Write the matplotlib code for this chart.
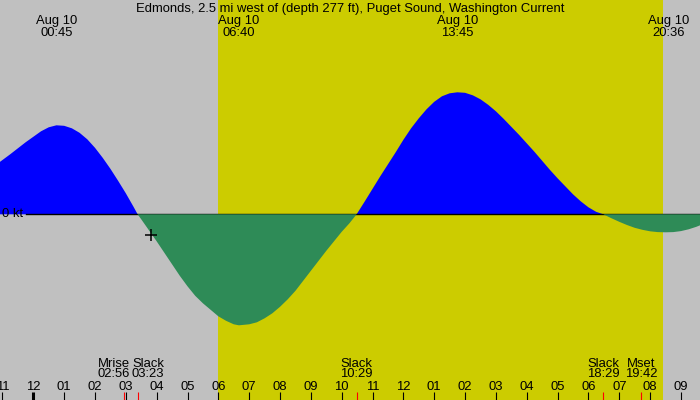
import matplotlib.pyplot as plt

hours = [-1.1, -0.75, -0.5, -0.25, 0.0, 0.25, 0.5, 0.75, 1.0, 1.25, 1.5, 1.75,
         2.0, 2.25, 2.5, 2.75, 3.0, 3.25, 3.383,
         3.5, 3.75, 4.0, 4.25, 4.5, 4.75, 5.0, 5.25, 5.5, 5.75, 6.0, 6.25,
         6.5, 6.667, 7.0, 7.25, 7.5, 7.75, 8.0, 8.25, 8.5, 8.75, 9.0, 9.25,
         9.5, 9.75, 10.0, 10.25, 10.483,
         10.75, 11.0, 11.25, 11.5, 11.75, 12.0, 12.25, 12.5, 12.75, 13.0,
         13.25, 13.5, 13.75, 14.0, 14.25, 14.5, 14.75, 15.0, 15.25, 15.5,
         15.75, 16.0, 16.25, 16.5, 16.75, 17.0, 17.25, 17.5, 17.75, 18.0,
         18.25, 18.483,
         18.75, 19.0, 19.25, 19.5, 19.75, 20.0, 20.25, 20.5, 20.75, 21.0,
         21.25, 21.5, 21.7]
speed = [0.52, 0.60, 0.66, 0.72, 0.775, 0.83, 0.87, 0.89, 0.885, 0.86, 0.815, 0.75,
         0.665, 0.565, 0.455, 0.335, 0.21, 0.075, 0.0,
         -0.05, -0.16, -0.27, -0.385, -0.50, -0.615, -0.72, -0.815, -0.89, -0.955,
         -1.02, -1.065, -1.10, -1.11, -1.10, -1.08, -1.04, -0.99, -0.925, -0.85,
         -0.765, -0.665, -0.565, -0.465, -0.365, -0.27, -0.175, -0.09, 0.0,
         0.13, 0.255, 0.38, 0.50, 0.62, 0.745, 0.86, 0.96, 1.05, 1.125,
         1.18, 1.21, 1.22, 1.215, 1.19, 1.15, 1.095, 1.03, 0.955, 0.875,
         0.795, 0.71, 0.625, 0.535, 0.445, 0.36, 0.28, 0.20, 0.13, 0.07,
         0.025, 0.0,
         -0.04, -0.075, -0.107, -0.135, -0.155, -0.17, -0.178, -0.18, -0.178,
         -0.168, -0.15, -0.125, -0.10]

# maximale stroom (bovenaan)
max_times = ['00:45', '06:40', '13:45', '20:36']

# gebeurtenissen (onderaan)
event_names = ['Mrise', 'Slack', 'Slack', 'Slack', 'Mset']
event_times = ['02:56', '03:23', '10:29', '18:29', '19:42']

sunrise = '06:00'
sunset = '20:25'
now_time = '03:49'
now_speed = -0.207

title = 'Edmonds, 2.5 mi west of (depth 277 ft), Puget Sound, Washington Current'
hour_labels = ['11', '12', '01', '02', '03', '04', '05', '06', '07', '08', '09', '10',
               '11', '12', '01', '02', '03', '04', '05', '06', '07', '08', '09']


def to_h(t):
    hh, mm = t.split(':')
    return int(hh) + int(mm) / 60


plt.rcParams['font.family'] = ['Liberation Sans', 'DejaVu Sans']
fs = 9.4

fig = plt.figure(figsize=(7, 4), dpi=100, facecolor='#c0c0c0')
ax = fig.add_axes([0, 0, 1, 1])
ax.set_xlim(-1.080, 21.618)
ax.set_ylim(-1.857, 2.143)
ax.axis('off')

# daglicht
ax.axvspan(to_h(sunrise), to_h(sunset), color='#cccc00', lw=0, zorder=1)

# vullen van de stroomcurve
pos = [max(s, 0) for s in speed]
neg = [min(s, 0) for s in speed]
ax.fill_between(hours, 0, pos, color='#0000ff', lw=0, zorder=2)
ax.axhline(0, xmin=26 / 700, color='black', lw=1.0, zorder=3)
ax.fill_between(hours, 0, neg, color='#2e8b57', lw=0, zorder=4)
ax.text(2 / 700, 0, '0 kt', transform=ax.get_yaxis_transform(),
        fontsize=fs, va='center', ha='left', zorder=5)

ax.plot(to_h(now_time), now_speed, marker='+', color='black', ms=8, mew=1.1, zorder=6)

# titel en maxima
tr = ax.get_xaxis_transform()
ax.text(0.5, 0.97, title, transform=ax.transAxes, ha='center', va='baseline', fontsize=fs)
for t in max_times:
    ax.text(to_h(t), 0.94, 'Aug 10', transform=tr, ha='center', va='baseline', fontsize=fs)
    ax.text(to_h(t), 0.911, t, transform=tr, ha='center', va='baseline', fontsize=fs)

# uurstreepjes
for i, lab in enumerate(hour_labels):
    h = i - 1
    ax.text(h, 0.025, lab, transform=tr, ha='center', va='baseline', fontsize=fs)
    ax.vlines(h, 0, 0.02, transform=tr, color='black', lw=2.2 if h == 0 else 0.8, zorder=6)

# gebeurtenissen
nudge = [-0.33, 0.34, 0, 0, 0]
for name, t, d in zip(event_names, event_times, nudge):
    h = to_h(t)
    ax.vlines(h, 0, 0.02, transform=tr, color='red', lw=0.8, zorder=6)
    ax.text(h + d, 0.0833, name, transform=tr, ha='center', va='baseline', fontsize=fs)
    ax.text(h + d, 0.0575, t, transform=tr, ha='center', va='baseline', fontsize=fs)

plt.savefig('out.png', facecolor=fig.get_facecolor())
